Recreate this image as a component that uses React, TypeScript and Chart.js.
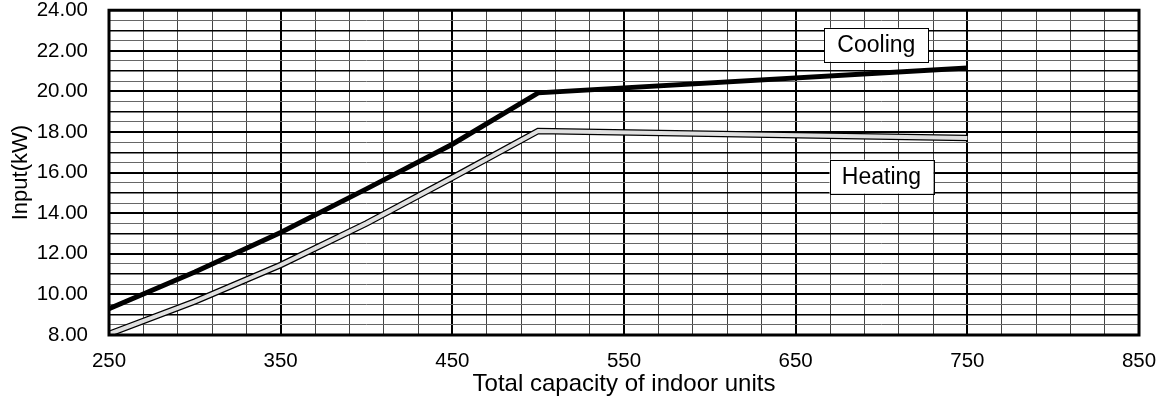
import { useEffect, useRef } from "react";
import { Chart, registerables } from "chart.js";

Chart.register(...registerables);

const capacities = [250, 300, 350, 400, 450, 500, 750];
const coolingInput = [9.3, 11.1, 13.05, 15.2, 17.4, 19.93, 21.15];
const heatingInput = [8.05, 9.65, 11.45, 13.5, 15.75, 18.05, 17.7];
const xTickLabels = [250, 350, 450, 550, 650, 750, 850];
const yTickLabels = [8, 10, 12, 14, 16, 18, 20, 22, 24];
const seriesTags = ["Cooling", "Heating"];
const tagCapacity = [697, 700];
const tagInput = [22.3, 15.8];

const FONT = '"Liberation Sans", Arial, Helvetica, sans-serif';

const framePlugin = {
  id: "frame",
  afterDatasetsDraw(chart: any) {
    const { ctx, chartArea, scales } = chart;
    ctx.save();
    ctx.font = `23px ${FONT}`;
    ctx.textAlign = "center";
    ctx.textBaseline = "middle";
    seriesTags.forEach((t, i) => {
      const cx = scales.x.getPixelForValue(tagCapacity[i]);
      const cy = scales.y.getPixelForValue(tagInput[i]);
      const w = 104;
      const h = 34;
      ctx.fillStyle = "#fff";
      ctx.fillRect(cx - w / 2, cy - h / 2, w, h);
      ctx.strokeStyle = "#000";
      ctx.lineWidth = 1;
      ctx.strokeRect(Math.round(cx - w / 2) + 0.5, Math.round(cy - h / 2) + 0.5, w, h);
      ctx.fillStyle = "#000";
      ctx.fillText(t, cx, cy + 1);
    });
    ctx.strokeStyle = "#000";
    ctx.lineWidth = 3;
    ctx.strokeRect(
      chartArea.left,
      chartArea.top,
      chartArea.right - chartArea.left,
      chartArea.bottom - chartArea.top
    );
    ctx.restore();
  },
};

export default function App() {
  const ref = useRef<HTMLCanvasElement | null>(null);
  useEffect(() => {
    document.body.style.margin = "0";
    const canvas = ref.current;
    if (!canvas) return;
    const chart = new Chart(canvas, {
      type: "line",
      data: {
        datasets: [
          {
            label: "Heating inner",
            data: capacities.map((x, i) => ({ x, y: heatingInput[i] })),
            borderColor: "#e0e0e0",
            borderWidth: 4,
            pointRadius: 0,
            tension: 0,
            order: 0,
            borderJoinStyle: "miter",
          },
          {
            label: "Heating",
            data: capacities.map((x, i) => ({ x, y: heatingInput[i] })),
            borderColor: "#000",
            borderWidth: 6.5,
            pointRadius: 0,
            tension: 0,
            order: 1,
            borderJoinStyle: "miter",
          },
          {
            label: "Cooling",
            data: capacities.map((x, i) => ({ x, y: coolingInput[i] })),
            borderColor: "#000",
            borderWidth: 5,
            pointRadius: 0,
            tension: 0,
            order: 2,
            borderJoinStyle: "miter",
          },
        ],
      },
      options: {
        responsive: false,
        animation: false,
        layout: { padding: { top: 0, right: 27, left: 0, bottom: 0 } },
        plugins: { legend: { display: false }, tooltip: { enabled: false } },
        scales: {
          x: {
            type: "linear",
            min: 250,
            max: 850,
            ticks: {
              stepSize: 20,
              autoSkip: false,
              maxRotation: 0,
              minRotation: 0,
              padding: 0,
              color: "#000",
              font: { family: FONT, size: 20.5, lineHeight: 1 },
              callback: (v: any) => (xTickLabels.includes(Number(v)) ? String(v) : ""),
            },
            grid: {
              drawTicks: true,
              tickLength: 16,
              tickColor: "rgba(0,0,0,0)",
              color: (c: any) => ((c.tick.value - 250) % 100 === 0 ? "#000" : "#444"),
              lineWidth: (c: any) => ((c.tick.value - 250) % 100 === 0 ? 2 : 1),
            },
            border: { display: false },
            title: {
              display: true,
              text: "Total capacity of indoor units",
              color: "#000",
              font: { family: FONT, size: 24 },
              padding: { top: 0, bottom: 5 },
            },
            afterFit: (s: any) => {
              s.height = 69;
            },
          },
          y: {
            type: "linear",
            min: 8,
            max: 24,
            ticks: {
              stepSize: 0.5,
              autoSkip: false,
              padding: 0,
              color: "#000",
              font: { family: FONT, size: 20.5, lineHeight: 1 },
              callback: (v: any) => (yTickLabels.includes(Number(v)) ? Number(v).toFixed(2) : ""),
            },
            grid: {
              drawTicks: true,
              tickLength: 21,
              tickColor: "rgba(0,0,0,0)",
              color: (c: any) => (Number.isInteger(c.tick.value) ? "#000" : "#666"),
              lineWidth: (c: any) =>
                c.tick.value % 2 === 0 ? 2 : Number.isInteger(c.tick.value) ? 1.5 : 1,
            },
            border: { display: false },
            title: {
              display: true,
              text: "Input(kW)",
              color: "#000",
              font: { family: FONT, size: 22 },
              padding: { top: 8, bottom: 0 },
            },
            afterFit: (s: any) => {
              s.width = 109;
            },
          },
        },
      },
      plugins: [framePlugin],
    });
    return () => chart.destroy();
  }, []);
  return (
    <div style={{ width: 1166, height: 404 }}>
      <canvas ref={ref} width={1166} height={404} />
    </div>
  );
}
